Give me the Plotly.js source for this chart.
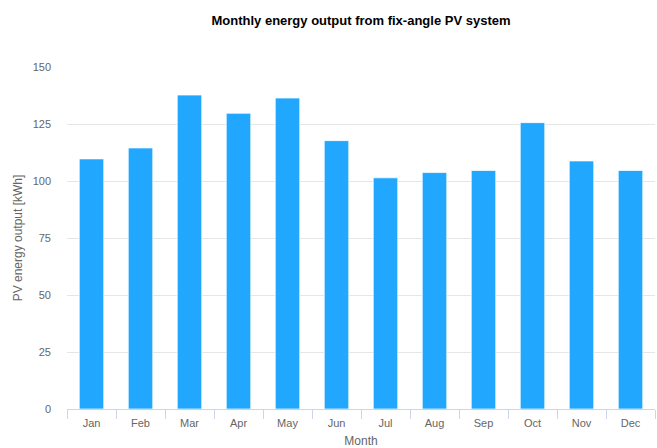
<!DOCTYPE html>
<html>
<head>
<meta charset="utf-8">
<script src="https://cdn.plot.ly/plotly-3.0.1.min.js"></script>
<style>
html,body{margin:0;padding:0;background:#fff;}
#chart{width:657px;height:448px;}
</style>
</head>
<body>
<div id="chart"></div>
<script>
const months = ["Jan","Feb","Mar","Apr","May","Jun","Jul","Aug","Sep","Oct","Nov","Dec"];
const energyKWh = [109.7, 114.5, 137.7, 129.7, 136.4, 117.7, 101.4, 103.7, 104.6, 125.6, 108.8, 104.6];
const yTicks = [0, 25, 50, 75, 100, 125, 150];

const trace = {
  type: "bar",
  x: months,
  y: energyKWh,
  marker: {color: "#22a7ff", line: {color: "rgba(255,255,255,0.7)", width: 1}},
  hoverinfo: "x+y"
};

const layout = {
  width: 657,
  height: 448,
  margin: {l: 67, r: 2, t: 67, b: 39},
  paper_bgcolor: "#fff",
  plot_bgcolor: "#fff",
  bargap: 0.5,
  showlegend: false,
  font: {family: "Liberation Sans, Arial, sans-serif", color: "#666", size: 11},
  title: {
    text: "<b>Monthly energy output from fix-angle PV system</b>",
    font: {family: "Liberation Sans, Arial, sans-serif", size: 13, color: "#000"},
    x: 0.5, xanchor: "center", xref: "paper",
    y: 1 - 20/448, yanchor: "middle", yref: "container"
  },
  xaxis: {
    type: "category",
    tickson: "boundaries",
    ticks: "outside",
    ticklen: 9,
    tickcolor: "#ccd6eb",
    tickwidth: 1,
    showline: true,
    linecolor: "#ccd6eb",
    linewidth: 1,
    showgrid: false,
    ticklabelstandoff: 4,
    tickfont: {size: 11, color: "#666"},
    title: {text: "Month", font: {size: 12, color: "#666"}, standoff: 8}
  },
  yaxis: {
    range: [0, 150],
    tickvals: yTicks,
    ticktext: yTicks.map(String),
    showgrid: true,
    gridcolor: "#e6e6e6",
    gridwidth: 1,
    zeroline: false,
    showline: false,
    ticks: "",
    ticklabelstandoff: 15,
    tickfont: {size: 11, color: "#666"},
    title: {text: "PV energy output [kWh]", font: {size: 12, color: "#666"}, standoff: 7}
  }
};

Plotly.newPlot("chart", [trace], layout, {displayModeBar: false, staticPlot: true});
</script>
</body>
</html>
